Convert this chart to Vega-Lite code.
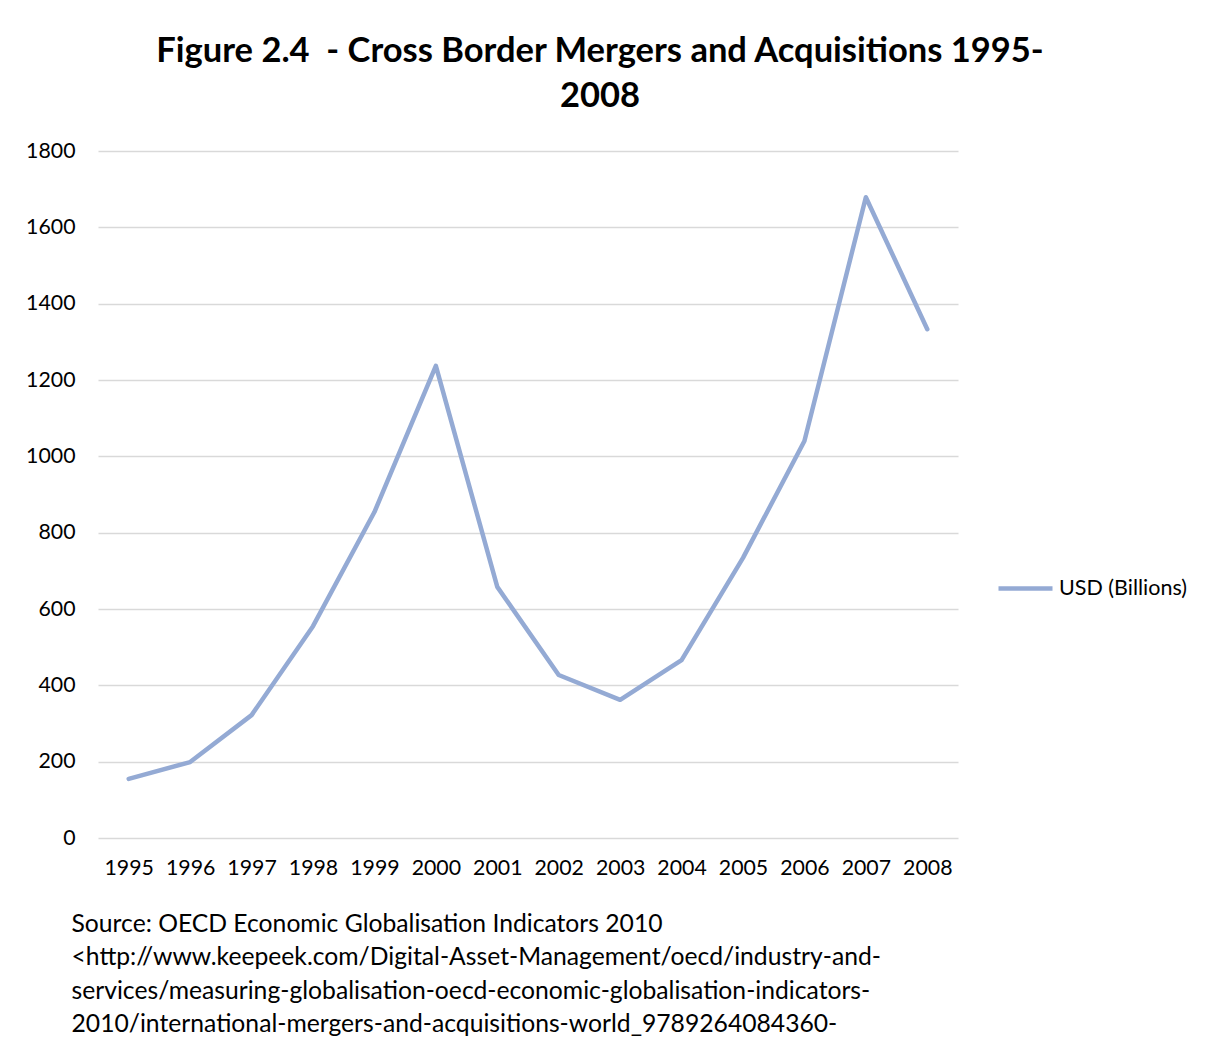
{
  "$schema": "https://vega.github.io/schema/vega-lite/v6.json",
  "width": 860,
  "height": 687,
  "autosize": "none",
  "padding": {"left": 98, "top": 151, "right": 248, "bottom": 210},
  "background": "white",
  "title": {
    "text": ["Figure 2.4\u00a0\u00a0- Cross Border Mergers and Acquisitions 1995-", "2008"],
    "font": "Lato",
    "fontWeight": "bold",
    "fontSize": 34.5,
    "lineHeight": 45,
    "color": "#000000",
    "anchor": "middle",
    "dx": 72,
    "offset": 26
  },
  "data": {
    "values": [
      {"year": "1995", "series": "USD (Billions)", "value": 155},
      {"year": "1996", "series": "USD (Billions)", "value": 199},
      {"year": "1997", "series": "USD (Billions)", "value": 322},
      {"year": "1998", "series": "USD (Billions)", "value": 555},
      {"year": "1999", "series": "USD (Billions)", "value": 854},
      {"year": "2000", "series": "USD (Billions)", "value": 1237},
      {"year": "2001", "series": "USD (Billions)", "value": 658},
      {"year": "2002", "series": "USD (Billions)", "value": 427},
      {"year": "2003", "series": "USD (Billions)", "value": 362},
      {"year": "2004", "series": "USD (Billions)", "value": 466},
      {"year": "2005", "series": "USD (Billions)", "value": 734},
      {"year": "2006", "series": "USD (Billions)", "value": 1040},
      {"year": "2007", "series": "USD (Billions)", "value": 1679},
      {"year": "2008", "series": "USD (Billions)", "value": 1333}
    ]
  },
  "mark": {"type": "line", "strokeWidth": 4.5, "strokeCap": "round", "strokeJoin": "round"},
  "encoding": {
    "x": {
      "field": "year",
      "type": "ordinal",
      "scale": {"type": "point", "padding": 0.5},
      "axis": {
        "labelAngle": 0,
        "labelFont": "Lato",
        "labelFontSize": 21.3,
        "labelColor": "#000000",
        "labelPadding": 19,
        "ticks": false,
        "domain": false,
        "grid": false,
        "title": [
          "Source: OECD Economic Globalisation Indicators 2010",
          "<http://www.keepeek.com/Digital-Asset-Management/oecd/industry-and-",
          "services/measuring-globalisation-oecd-economic-globalisation-indicators-",
          "2010/international-mergers-and-acquisitions-world_9789264084360-"
        ],
        "titleFont": "Lato",
        "titleFontSize": 24.7,
        "titleFontWeight": "normal",
        "titleColor": "#000000",
        "titleLineHeight": 33.5,
        "titleAnchor": "start",
        "titleAlign": "left",
        "titleBaseline": "top",
        "titleX": -27,
        "titleY": 73
      }
    },
    "y": {
      "field": "value",
      "type": "quantitative",
      "scale": {"domain": [0, 1800]},
      "axis": {
        "values": [0, 200, 400, 600, 800, 1000, 1200, 1400, 1600, 1800],
        "format": "d",
        "labelFont": "Lato",
        "labelFontSize": 21.3,
        "labelColor": "#000000",
        "labelPadding": 23,
        "ticks": false,
        "domain": false,
        "gridColor": "#d9d9d9",
        "gridWidth": 1.5,
        "title": null
      }
    },
    "color": {
      "field": "series",
      "type": "nominal",
      "scale": {"range": ["#94aad4"]},
      "legend": {
        "title": null,
        "orient": "none",
        "legendX": 898,
        "legendY": 408,
        "symbolType": "stroke",
        "symbolSize": 2916,
        "symbolStrokeWidth": 4.5,
        "labelFont": "Lato",
        "labelFontSize": 21.5,
        "labelColor": "#000000",
        "labelOffset": 4
      }
    }
  },
  "config": {"view": {"stroke": null}}
}
